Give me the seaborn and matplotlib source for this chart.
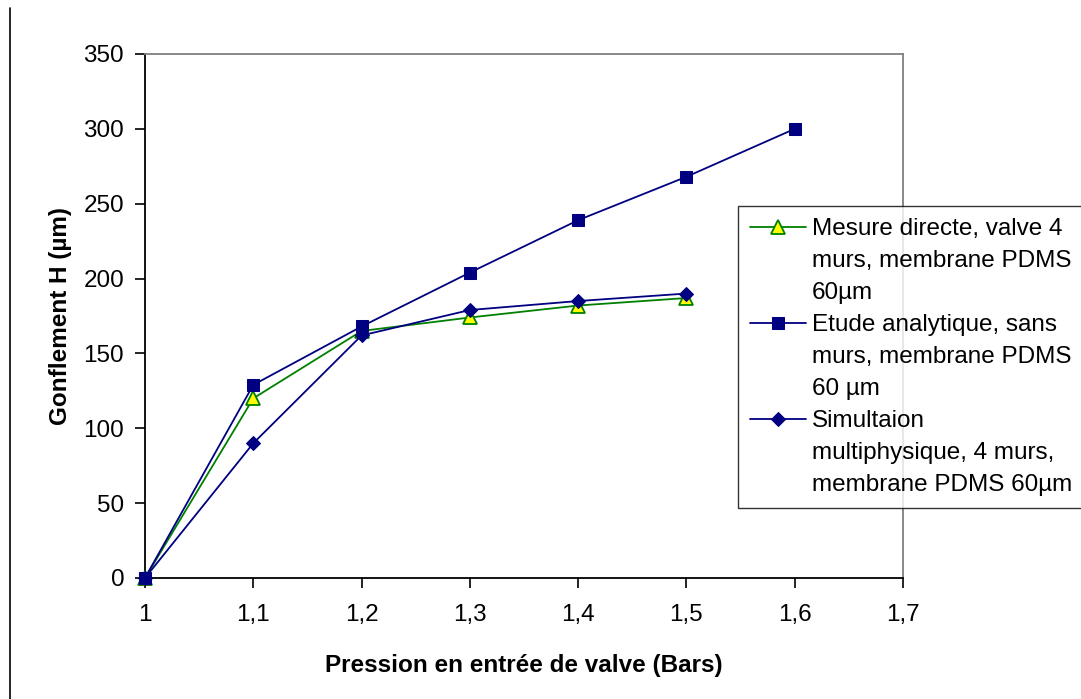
import matplotlib
matplotlib.use("Agg")
import matplotlib.pyplot as plt
import matplotlib.ticker as mticker
from matplotlib.lines import Line2D
import seaborn as sns

# Données
pression = [1.0, 1.1, 1.2, 1.3, 1.4, 1.5, 1.6]
mesure_directe = [0, 120, 165, 174, 182, 187]
etude_analytique = [0, 129, 168, 204, 239, 268, 300]
simulation = [0, 90, 162, 179, 185, 190]

labels = [
    ["Mesure directe, valve 4", "murs, membrane PDMS", "60µm"],
    ["Etude analytique, sans", "murs, membrane PDMS", "60 µm"],
    ["Simultaion", "multiphysique, 4 murs,", "membrane PDMS 60µm"],
]

sns.set_theme(style="white")
plt.rcParams["font.family"] = ["Liberation Sans", "DejaVu Sans"]
plt.rcParams["text.color"] = "black"
plt.rcParams["axes.labelcolor"] = "black"

fig = plt.figure(figsize=(10.81, 6.99), dpi=100)
ax = fig.add_axes([145 / 1081, 1 - 578 / 699, (903 - 145) / 1081, (578 - 54) / 699])

navy = "#000080"
green = "#008000"
taille = 17.5

sns.lineplot(x=pression[:6], y=mesure_directe, ax=ax, color=green, linewidth=1.3,
             marker="^", markersize=10, markerfacecolor="#FFFF00",
             markeredgecolor=green, markeredgewidth=1.3, zorder=3, clip_on=False)
sns.lineplot(x=pression, y=etude_analytique, ax=ax, color=navy, linewidth=1.3,
             marker="s", markersize=8.5, markerfacecolor=navy,
             markeredgecolor=navy, zorder=5, clip_on=False)
sns.lineplot(x=pression[:6], y=simulation, ax=ax, color=navy, linewidth=1.3,
             marker="D", markersize=7, markerfacecolor=navy,
             markeredgecolor=navy, zorder=4, clip_on=False)

ax.set_xlim(1.0, 1.7)
ax.set_ylim(0, 350)
ax.xaxis.set_major_locator(mticker.MultipleLocator(0.1))
ax.yaxis.set_major_locator(mticker.MultipleLocator(50))
ax.xaxis.set_major_formatter(mticker.FuncFormatter(
    lambda v, p: ("%.1f" % v).rstrip("0").rstrip(".").replace(".", ",")))

ax.tick_params(axis="both", direction="out", length=7, width=1.2, color="black",
               labelcolor="black", labelsize=taille, pad=8, bottom=True, left=True)
ax.tick_params(axis="x", pad=12)

for side in ["left", "bottom"]:
    ax.spines[side].set_color("black")
    ax.spines[side].set_linewidth(1.3)
for side in ["top", "right"]:
    ax.spines[side].set_color("#808080")
    ax.spines[side].set_linewidth(1.3)
ax.grid(False)

ax.set_xlabel("Pression en entrée de valve (Bars)", fontsize=taille, fontweight="bold", labelpad=20)
ax.set_ylabel("Gonflement H (µm)", fontsize=taille, fontweight="bold", labelpad=8)

# légende : une ligne par entrée, le symbole sur la première ligne de chaque série
series_lines = ax.get_lines()
handles, texts = [], []
for line, lab in zip(series_lines, labels):
    for i, part in enumerate(lab):
        if i == 0:
            handles.append(line)
        else:
            handles.append(Line2D([], [], linestyle="none"))
        texts.append(part)

leg = ax.legend(handles, texts, loc="upper left", bbox_to_anchor=(738 / 1081, 1 - 206 / 699),
                bbox_transform=fig.transFigure, fontsize=taille, frameon=True,
                fancybox=False, edgecolor="black", handlelength=2.3,
                handletextpad=0.25, borderpad=0.5, labelspacing=0.41,
                borderaxespad=0)
leg.get_frame().set_linewidth(1.0)

# trait vertical à gauche de l'image
fig.add_artist(Line2D([10 / 1081, 10 / 1081], [0, 1 - 8 / 699],
                      transform=fig.transFigure, color="black", linewidth=1.2))

fig.savefig("out.png", dpi=100, facecolor="white")
